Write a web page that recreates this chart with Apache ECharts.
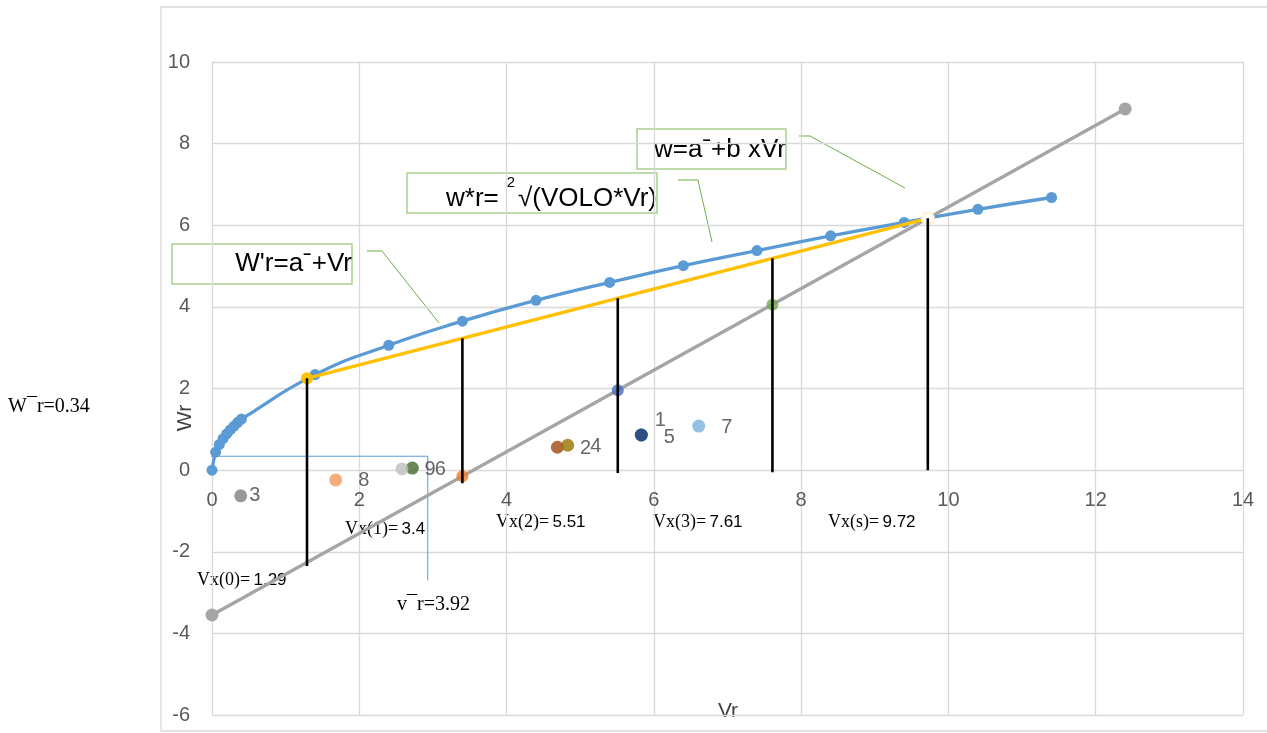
<!DOCTYPE html>
<html>
<head>
<meta charset="utf-8">
<script src="https://cdn.jsdelivr.net/npm/echarts@6/dist/echarts.min.js"></script>
<style>
  html, body { margin: 0; padding: 0; background: #fff; }
  #chart { width: 1267px; height: 733px; }
</style>
</head>
<body>
<div id="chart"></div>
<script>
// Square-root curve w*r = √(VOLO·Vr)
const curveVr = [0, 0.05, 0.10, 0.15, 0.20, 0.25, 0.30, 0.35, 0.40, 1.4, 2.4, 3.4, 4.4, 5.4, 6.4, 7.4, 8.4, 9.4, 10.4, 11.4];
const curveW  = [0, 0.44, 0.63, 0.77, 0.89, 0.99, 1.08, 1.17, 1.25, 2.34, 3.06, 3.65, 4.16, 4.60, 5.01, 5.38, 5.74, 6.07, 6.39, 6.68];

// Straight line w = a¯ + b·Vr
const lineVr = [0, 12.4];
const lineW  = [-3.55, 8.85];

// Chord W'r = a¯ + Vr between Vx(0) and Vx(s)
const chordVr = [1.29, 9.72];
const chordW  = [2.25, 6.17];

// Vertical markers Vx(n)
const vxNames  = ['0', '1', '2', '3', 's'];
const vxValues = [1.29, 3.4, 5.51, 7.61, 9.72];
const vxTop    = [2.25, 3.23, 4.21, 5.19, 6.17];
const vxBottom = [-2.35, -0.32, -0.07, -0.05, 0];

// Points where the Vx markers cross the straight line
const crossVr = [3.4, 5.51, 7.61];
const crossW  = [-0.15, 1.96, 4.05];

// Numbered observations
const pointNames = ['1', '2', '3', '4', '5', '6', '7', '8', '9'];
const pointVr    = [5.83, 4.69, 0.39, 4.83, 5.83, 2.72, 6.61, 1.68, 2.58];
const pointW     = [0.86, 0.56, -0.63, 0.61, 0.86, 0.05, 1.08, -0.24, 0.03];

// Reference levels
const wBar = 0.34;
const vBar = 3.92;
// leader drawn from the W¯r level down towards the v¯r note
const leaderVr = [-1.39, 2.93, 2.93];
const leaderW  = [wBar, wBar, -2.70];

// Axis ticks
const xTicks = { min: 0, max: 14, interval: 2 };
const yTicks = { min: -6, max: 10, interval: 2 };

// ---- styling ----
const crossColors = ['#ED7D31', '#4472C4', '#70AD47'];
const pointColors = {
  '1': '#255E91', '2': '#9E480E', '3': '#7F7F7F', '4': '#997300', '5': '#264478',
  '6': '#43682B', '7': '#7CAFDD', '8': '#F1975A', '9': '#BFBFBF'
};
const pointLabelPlace = {
  '1': { distance: 7, offset: [0, -15] },
  '3': { distance: 2, offset: [0, 0] },
  '5': { distance: 16, offset: [0, 2] }
};

const zip = (xs, ys) => xs.map((x, i) => [x, ys[i]]);

const series = [];

series.push({
  type: 'line', name: 'leader', data: zip(leaderVr, leaderW),
  symbol: 'none', clip: false, silent: true,
  lineStyle: { color: '#5B9BD5', width: 1 }, z: 1
});

series.push({
  type: 'line', name: 'w=a¯+b xVr', data: zip(lineVr, lineW),
  symbol: 'circle', symbolSize: 13,
  lineStyle: { color: '#A5A5A5', width: 3.3 },
  itemStyle: { color: '#A5A5A5' }, z: 2
});

series.push({
  type: 'line', name: 'w*r', data: zip(curveVr, curveW), smooth: true,
  symbol: 'circle', symbolSize: 11,
  lineStyle: { color: '#5B9BD5', width: 3.3 },
  itemStyle: { color: '#5B9BD5' }, z: 3
});

series.push({
  type: 'line', name: "W'r",
  data: chordVr.map((v, i) => i === chordVr.length - 1
    ? { value: [v, chordW[i]], symbol: 'emptyCircle', itemStyle: { borderWidth: 3, borderColor: '#FFC000', color: '#FFF2CC' } }
    : { value: [v, chordW[i]] }),
  symbol: 'circle', symbolSize: 12,
  lineStyle: { color: '#FFC000', width: 3.3 },
  itemStyle: { color: '#FFC000' }, z: 4
});

series.push({
  type: 'scatter', name: 'cross',
  data: crossVr.map((v, i) => ({ value: [v, crossW[i]], itemStyle: { color: crossColors[i] } })),
  symbolSize: 12, z: 4
});

series.push({
  type: 'scatter', name: 'points',
  data: pointNames.map((n, i) => {
    const place = pointLabelPlace[n] || { distance: 16, offset: [0, 1] };
    return {
      name: n, value: [pointVr[i], pointW[i]],
      itemStyle: { color: pointColors[n] },
      label: { show: true, position: 'right', formatter: n, distance: place.distance, offset: place.offset }
    };
  }),
  symbolSize: 13, z: 5,
  label: { color: '#404040', fontSize: 20, fontFamily: 'Liberation Sans' }
});

vxValues.forEach((v, i) => {
  series.push({
    type: 'line', name: 'Vx(' + vxNames[i] + ')',
    data: [[v, vxTop[i]], [v, vxBottom[i]]],
    symbol: 'none', lineStyle: { color: '#000', width: 2.6 }, z: 6
  });
});

// ---- text and callouts ----
const serif = 'Liberation Serif';
const sans = 'Liberation Sans';
const vxLabelPos = [[197, 580], [345, 529], [496, 522], [653, 522], [828, 522]];

const graphic = [
  { type: 'rect', z: -10, shape: { x: 161, y: 7, width: 1200, height: 724 },
    style: { fill: 'none', stroke: '#D9D9D9', lineWidth: 1.3 } },

  // callout boxes
  { type: 'rect', shape: { x: 172, y: 244, width: 180, height: 40 },
    style: { fill: '#fff', stroke: '#A9D18E', lineWidth: 1.5 } },
  { type: 'text', x: 352, y: 264,
    style: { text: "W'r=a\u02C9+Vr", align: 'right', verticalAlign: 'middle', font: '26px ' + sans, fill: '#000' } },
  { type: 'polyline', shape: { points: [[367, 251], [382, 251], [439, 323]] },
    style: { stroke: '#70AD47', lineWidth: 1, fill: null } },

  { type: 'rect', shape: { x: 407, y: 173, width: 250, height: 40 },
    style: { fill: '#fff', stroke: '#A9D18E', lineWidth: 1.5 } },
  { type: 'text', x: 446, y: 199,
    style: { text: 'w*r=', align: 'left', verticalAlign: 'middle', font: '26px ' + sans, fill: '#000' } },
  { type: 'text', x: 657, y: 199,
    style: { text: '√(VOLO*Vr)', align: 'right', verticalAlign: 'middle', font: '26px ' + sans, fill: '#000' } },
  { type: 'text', x: 511, y: 183,
    style: { text: '2', align: 'center', verticalAlign: 'middle', font: '15px ' + sans, fill: '#000' } },
  { type: 'polyline', shape: { points: [[678, 180], [698, 180], [712, 242]] },
    style: { stroke: '#70AD47', lineWidth: 1, fill: null } },

  { type: 'rect', shape: { x: 637, y: 129, width: 149, height: 40 },
    style: { fill: '#fff', stroke: '#A9D18E', lineWidth: 1.5 } },
  { type: 'text', x: 786, y: 150,
    style: { text: 'w=a\u02C9+b xVr', align: 'right', verticalAlign: 'middle', font: '26px ' + sans, fill: '#000' } },
  { type: 'polyline', shape: { points: [[799, 136], [810, 136], [905, 188]] },
    style: { stroke: '#70AD47', lineWidth: 1, fill: null } },

  // reference levels
  { type: 'text', x: 8, y: 407,
    style: { text: 'W¯r=' + wBar, align: 'left', verticalAlign: 'middle', font: '20px ' + serif, fill: '#000' } },
  { type: 'text', x: 397, y: 605,
    style: { text: 'v¯r=' + vBar, align: 'left', verticalAlign: 'middle', font: '20px ' + serif, fill: '#000' } },

  // axis titles
  { type: 'text', x: 728, y: 711,
    style: { text: 'Vr', align: 'center', verticalAlign: 'middle', font: '21px ' + sans, fill: '#404040' } },
  { type: 'text', x: 185, y: 418, rotation: Math.PI / 2,
    style: { text: 'Wr', align: 'center', verticalAlign: 'middle', font: '21px ' + sans, fill: '#404040' } }
];

vxValues.forEach((v, i) => {
  graphic.push({
    type: 'text', x: vxLabelPos[i][0], y: vxLabelPos[i][1],
    style: {
      text: '{s|Vx(' + vxNames[i] + ')=} {n|' + v + '}',
      align: 'left', verticalAlign: 'middle',
      rich: {
        s: { fontFamily: serif, fontSize: 18, fill: '#000' },
        n: { fontFamily: sans, fontSize: 17, fill: '#000' }
      }
    }
  });
});

const axisText = { color: '#595959', fontSize: 20, fontFamily: sans };
const gridLine = { show: true, lineStyle: { color: '#D9D9D9', width: 1.3 } };

const option = {
  animation: false,
  backgroundColor: '#fff',
  grid: { left: 212, top: 62, right: 24, bottom: 18, containLabel: false, outerBoundsMode: 'none' },
  xAxis: {
    type: 'value', min: xTicks.min, max: xTicks.max, interval: xTicks.interval,
    axisLine: { show: false, onZero: false },
    axisTick: { show: false },
    axisLabel: Object.assign({ margin: 20 }, axisText),
    splitLine: gridLine
  },
  yAxis: {
    type: 'value', min: yTicks.min, max: yTicks.max, interval: yTicks.interval,
    axisLine: { show: false },
    axisTick: { show: false },
    axisLabel: Object.assign({ margin: 22 }, axisText),
    splitLine: gridLine
  },
  series: series,
  graphic: graphic
};

const chart = echarts.init(document.getElementById('chart'));
chart.setOption(option);

// Place the horizontal axis (and its labels) on the Wr = 0 line
const yZero = chart.convertToPixel({ yAxisIndex: 0 }, 0);
const yBase = chart.convertToPixel({ yAxisIndex: 0 }, yTicks.min);
chart.setOption({ xAxis: { offset: yZero - yBase } });
</script>
</body>
</html>
